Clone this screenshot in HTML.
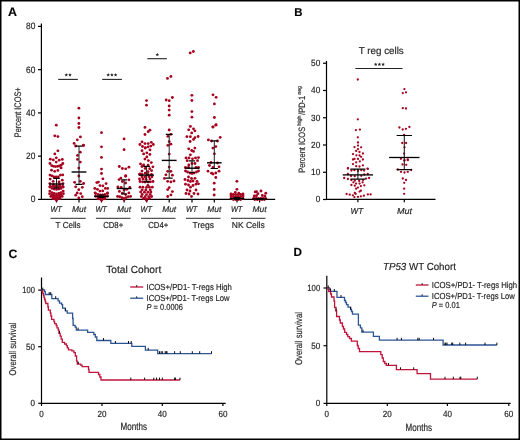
<!DOCTYPE html><html><head><meta charset="utf-8"><style>html,body{margin:0;padding:0;background:#fff;}svg{display:block;will-change:transform;}text{font-family:"Liberation Sans",sans-serif;text-rendering:geometricPrecision;stroke:#2a2a2a;stroke-width:0.18px;}</style></head><body>
<svg width="520" height="440" viewBox="0 0 520 440">
<rect x="0" y="0" width="520" height="440" fill="#fff"/>
<rect x="0.75" y="0.75" width="518.5" height="438.5" fill="none" stroke="#000" stroke-width="1.5"/>
<text x="8.0" y="15.8" font-size="12.4" font-weight="bold" fill="#000">A</text>
<text x="294.3" y="15.8" font-size="11.4" font-weight="bold" fill="#000">B</text>
<text x="8.6" y="257.6" font-size="12.2" font-weight="bold" fill="#000">C</text>
<text x="293.5" y="256.3" font-size="11.7" font-weight="bold" fill="#000">D</text>
<g stroke="#000" stroke-width="1.2" fill="none">
<path d="M41.4 23.5 V199.4 H275.2"/>
<path d="M38 199.40 H41.4"/>
<path d="M38 156.15 H41.4"/>
<path d="M38 112.90 H41.4"/>
<path d="M38 69.65 H41.4"/>
<path d="M38 26.40 H41.4"/>
<path d="M56.5 199.4 V202.5"/>
<path d="M79 199.4 V202.5"/>
<path d="M101.5 199.4 V202.5"/>
<path d="M124.1 199.4 V202.5"/>
<path d="M146.7 199.4 V202.5"/>
<path d="M169.2 199.4 V202.5"/>
<path d="M192 199.4 V202.5"/>
<path d="M214.3 199.4 V202.5"/>
<path d="M237 199.4 V202.5"/>
<path d="M259.6 199.4 V202.5"/>
</g>
<text x="35.4" y="202.3" font-size="9.3" text-anchor="end" textLength="4.7" lengthAdjust="spacingAndGlyphs" fill="#1e1e1e">0</text>
<text x="35.4" y="159.05" font-size="9.3" text-anchor="end" textLength="9.3" lengthAdjust="spacingAndGlyphs" fill="#1e1e1e">20</text>
<text x="35.4" y="115.8" font-size="9.3" text-anchor="end" textLength="9.3" lengthAdjust="spacingAndGlyphs" fill="#1e1e1e">40</text>
<text x="35.4" y="72.55" font-size="9.3" text-anchor="end" textLength="9.3" lengthAdjust="spacingAndGlyphs" fill="#1e1e1e">60</text>
<text x="35.4" y="29.3" font-size="9.3" text-anchor="end" textLength="9.3" lengthAdjust="spacingAndGlyphs" fill="#1e1e1e">80</text>
<text transform="translate(20.5,112.3) rotate(-90)" x="0" y="0" font-size="9.5" text-anchor="middle" textLength="50" lengthAdjust="spacingAndGlyphs" fill="#1e1e1e">Percent ICOS+</text>
<text x="56.1" y="212.2" font-size="8.2" text-anchor="middle" font-style="italic" textLength="11.4" lengthAdjust="spacingAndGlyphs" fill="#1e1e1e">WT</text>
<text x="79" y="212.2" font-size="8.2" text-anchor="middle" font-style="italic" textLength="14.0" lengthAdjust="spacingAndGlyphs" fill="#1e1e1e">Mut</text>
<text x="101.1" y="212.2" font-size="8.2" text-anchor="middle" font-style="italic" textLength="11.4" lengthAdjust="spacingAndGlyphs" fill="#1e1e1e">WT</text>
<text x="124.1" y="212.2" font-size="8.2" text-anchor="middle" font-style="italic" textLength="14.0" lengthAdjust="spacingAndGlyphs" fill="#1e1e1e">Mut</text>
<text x="146.29999999999998" y="212.2" font-size="8.2" text-anchor="middle" font-style="italic" textLength="11.4" lengthAdjust="spacingAndGlyphs" fill="#1e1e1e">WT</text>
<text x="169.2" y="212.2" font-size="8.2" text-anchor="middle" font-style="italic" textLength="14.0" lengthAdjust="spacingAndGlyphs" fill="#1e1e1e">Mut</text>
<text x="191.6" y="212.2" font-size="8.2" text-anchor="middle" font-style="italic" textLength="11.4" lengthAdjust="spacingAndGlyphs" fill="#1e1e1e">WT</text>
<text x="214.3" y="212.2" font-size="8.2" text-anchor="middle" font-style="italic" textLength="14.0" lengthAdjust="spacingAndGlyphs" fill="#1e1e1e">Mut</text>
<text x="236.6" y="212.2" font-size="8.2" text-anchor="middle" font-style="italic" textLength="11.4" lengthAdjust="spacingAndGlyphs" fill="#1e1e1e">WT</text>
<text x="259.6" y="212.2" font-size="8.2" text-anchor="middle" font-style="italic" textLength="14.0" lengthAdjust="spacingAndGlyphs" fill="#1e1e1e">Mut</text>
<path d="M50.5 218.4 H85.7" stroke="#555" stroke-width="1.4"/>
<text x="68.1" y="227.8" font-size="8.7" text-anchor="middle" textLength="25" lengthAdjust="spacingAndGlyphs" fill="#1e1e1e">T Cells</text>
<path d="M95.9 218.4 H130.5" stroke="#555" stroke-width="1.4"/>
<text x="113.2" y="227.8" font-size="8.7" text-anchor="middle" textLength="20" lengthAdjust="spacingAndGlyphs" fill="#1e1e1e">CD8+</text>
<path d="M141 218.4 H175.5" stroke="#555" stroke-width="1.4"/>
<text x="158.25" y="227.8" font-size="8.7" text-anchor="middle" textLength="20" lengthAdjust="spacingAndGlyphs" fill="#1e1e1e">CD4+</text>
<path d="M186 218.4 H220.5" stroke="#555" stroke-width="1.4"/>
<text x="203.25" y="227.8" font-size="8.7" text-anchor="middle" textLength="21.5" lengthAdjust="spacingAndGlyphs" fill="#1e1e1e">Tregs</text>
<path d="M231 218.4 H265.5" stroke="#555" stroke-width="1.4"/>
<text x="248.25" y="227.8" font-size="8.7" text-anchor="middle" textLength="33" lengthAdjust="spacingAndGlyphs" fill="#1e1e1e">NK Cells</text>
<g stroke="#222" stroke-width="1.1">
<path d="M58.2 79.4 H77.8"/><path d="M102.2 79.4 H121.9"/><path d="M147.3 58.7 H166.9"/>
</g>
<polygon points="66.25,73.10 66.75,74.31 68.06,74.41 67.06,75.26 67.37,76.54 66.25,75.86 65.13,76.54 65.44,75.26 64.44,74.41 65.75,74.31" fill="#222"/><polygon points="69.95,73.10 70.45,74.31 71.76,74.41 70.76,75.26 71.07,76.54 69.95,75.86 68.83,76.54 69.14,75.26 68.14,74.41 69.45,74.31" fill="#222"/>
<polygon points="108.20,73.10 108.70,74.31 110.01,74.41 109.01,75.26 109.32,76.54 108.20,75.86 107.08,76.54 107.39,75.26 106.39,74.41 107.70,74.31" fill="#222"/><polygon points="111.90,73.10 112.40,74.31 113.71,74.41 112.71,75.26 113.02,76.54 111.90,75.86 110.78,76.54 111.09,75.26 110.09,74.41 111.40,74.31" fill="#222"/><polygon points="115.60,73.10 116.10,74.31 117.41,74.41 116.41,75.26 116.72,76.54 115.60,75.86 114.48,76.54 114.79,75.26 113.79,74.41 115.10,74.31" fill="#222"/>
<polygon points="157.30,52.70 157.80,53.91 159.11,54.01 158.11,54.86 158.42,56.14 157.30,55.45 156.18,56.14 156.49,54.86 155.49,54.01 156.80,53.91" fill="#222"/>
<g fill="#a6001e">
<circle cx="56.3" cy="125.2" r="1.42"/><circle cx="54.8" cy="135.8" r="1.42"/><circle cx="57.9" cy="136.6" r="1.42"/><circle cx="57.9" cy="150.8" r="1.42"/><circle cx="54.8" cy="153.9" r="1.42"/><circle cx="56.3" cy="157.8" r="1.42"/><circle cx="50.3" cy="159.2" r="1.42"/><circle cx="53.3" cy="159.9" r="1.42"/><circle cx="59.2" cy="160.2" r="1.42"/><circle cx="62.3" cy="159.4" r="1.42"/><circle cx="56.2" cy="162.1" r="1.42"/><circle cx="50.0" cy="163.5" r="1.42"/><circle cx="62.8" cy="163.5" r="1.42"/><circle cx="51.7" cy="165.7" r="1.42"/><circle cx="53.6" cy="166.3" r="1.42"/><circle cx="55.5" cy="166.6" r="1.42"/><circle cx="57.5" cy="166.3" r="1.42"/><circle cx="59.4" cy="166.0" r="1.42"/><circle cx="61.1" cy="165.2" r="1.42"/><circle cx="61.1" cy="167.9" r="1.42"/><circle cx="51.5" cy="170.2" r="1.42"/><circle cx="54.7" cy="171.3" r="1.42"/><circle cx="57.9" cy="170.4" r="1.42"/><circle cx="50.0" cy="175.1" r="1.42"/><circle cx="52.1" cy="175.9" r="1.42"/><circle cx="54.0" cy="176.8" r="1.42"/><circle cx="56.2" cy="177.0" r="1.42"/><circle cx="58.3" cy="176.8" r="1.42"/><circle cx="60.4" cy="175.1" r="1.42"/><circle cx="62.7" cy="174.9" r="1.42"/><circle cx="50.2" cy="179.1" r="1.42"/><circle cx="62.3" cy="180.2" r="1.42"/><circle cx="53.2" cy="181.4" r="1.42"/><circle cx="59.1" cy="181.9" r="1.42"/><circle cx="49.8" cy="183.6" r="1.42"/><circle cx="63.0" cy="183.6" r="1.42"/><circle cx="53.5" cy="184.6" r="1.42"/><circle cx="59.5" cy="184.6" r="1.42"/><circle cx="50.2" cy="186.3" r="1.42"/><circle cx="52.8" cy="186.3" r="1.42"/><circle cx="55.2" cy="186.3" r="1.42"/><circle cx="57.8" cy="186.3" r="1.42"/><circle cx="60.2" cy="186.3" r="1.42"/><circle cx="62.8" cy="186.3" r="1.42"/><circle cx="49.8" cy="187.1" r="1.42"/><circle cx="52.0" cy="188.4" r="1.42"/><circle cx="54.2" cy="189.1" r="1.42"/><circle cx="56.5" cy="189.4" r="1.42"/><circle cx="58.8" cy="189.1" r="1.42"/><circle cx="61.0" cy="188.4" r="1.42"/><circle cx="63.2" cy="187.1" r="1.42"/><circle cx="49.8" cy="191.1" r="1.42"/><circle cx="52.0" cy="192.6" r="1.42"/><circle cx="54.2" cy="193.5" r="1.42"/><circle cx="56.5" cy="193.8" r="1.42"/><circle cx="58.8" cy="193.5" r="1.42"/><circle cx="61.0" cy="192.6" r="1.42"/><circle cx="63.2" cy="191.1" r="1.42"/><circle cx="49.6" cy="193.7" r="1.42"/><circle cx="51.9" cy="194.8" r="1.42"/><circle cx="54.2" cy="195.4" r="1.42"/><circle cx="56.5" cy="195.6" r="1.42"/><circle cx="58.8" cy="195.4" r="1.42"/><circle cx="61.1" cy="194.8" r="1.42"/><circle cx="63.4" cy="193.7" r="1.42"/><circle cx="50.8" cy="196.4" r="1.42"/><circle cx="53.0" cy="197.0" r="1.42"/><circle cx="55.4" cy="197.4" r="1.42"/><circle cx="57.6" cy="197.4" r="1.42"/><circle cx="60.0" cy="197.0" r="1.42"/><circle cx="62.2" cy="196.4" r="1.42"/><circle cx="53.0" cy="198.7" r="1.42"/><circle cx="55.4" cy="198.9" r="1.42"/><circle cx="57.6" cy="198.9" r="1.42"/><circle cx="60.0" cy="198.7" r="1.42"/><circle cx="56.5" cy="200.3" r="1.42"/><circle cx="78.9" cy="108.2" r="1.42"/><circle cx="78.9" cy="118.0" r="1.42"/><circle cx="78.9" cy="123.5" r="1.42"/><circle cx="78.9" cy="127.5" r="1.42"/><circle cx="80.4" cy="136.9" r="1.42"/><circle cx="77.3" cy="139.8" r="1.42"/><circle cx="74.1" cy="143.4" r="1.42"/><circle cx="83.5" cy="145.2" r="1.42"/><circle cx="75.7" cy="146.0" r="1.42"/><circle cx="83.4" cy="145.5" r="1.42"/><circle cx="80.3" cy="152.2" r="1.42"/><circle cx="77.5" cy="155.4" r="1.42"/><circle cx="77.5" cy="159.4" r="1.42"/><circle cx="80.3" cy="162.1" r="1.42"/><circle cx="78.8" cy="168.1" r="1.42"/><circle cx="78.8" cy="176.0" r="1.42"/><circle cx="74.6" cy="182.3" r="1.42"/><circle cx="80.3" cy="181.3" r="1.42"/><circle cx="83.6" cy="183.5" r="1.42"/><circle cx="75.7" cy="186.8" r="1.42"/><circle cx="82.3" cy="187.3" r="1.42"/><circle cx="78.8" cy="189.7" r="1.42"/><circle cx="77.2" cy="192.9" r="1.42"/><circle cx="75.7" cy="195.2" r="1.42"/><circle cx="80.7" cy="193.6" r="1.42"/><circle cx="82.3" cy="196.7" r="1.42"/><circle cx="78.8" cy="197.9" r="1.42"/><circle cx="101.5" cy="132.7" r="1.42"/><circle cx="101.5" cy="146.8" r="1.42"/><circle cx="101.5" cy="157.4" r="1.42"/><circle cx="101.5" cy="169.1" r="1.42"/><circle cx="101.5" cy="173.5" r="1.42"/><circle cx="102.9" cy="178.8" r="1.42"/><circle cx="96.8" cy="182.6" r="1.42"/><circle cx="98.4" cy="182.1" r="1.42"/><circle cx="106.1" cy="183.6" r="1.42"/><circle cx="100.0" cy="185.6" r="1.42"/><circle cx="102.9" cy="185.8" r="1.42"/><circle cx="94.8" cy="188.4" r="1.42"/><circle cx="97.4" cy="189.3" r="1.42"/><circle cx="105.4" cy="188.4" r="1.42"/><circle cx="107.7" cy="188.4" r="1.42"/><circle cx="99.9" cy="191.1" r="1.42"/><circle cx="102.7" cy="190.9" r="1.42"/><circle cx="95.1" cy="192.8" r="1.42"/><circle cx="107.5" cy="192.8" r="1.42"/><circle cx="95.5" cy="193.6" r="1.42"/><circle cx="97.9" cy="194.5" r="1.42"/><circle cx="100.3" cy="194.9" r="1.42"/><circle cx="102.7" cy="194.9" r="1.42"/><circle cx="105.1" cy="194.5" r="1.42"/><circle cx="107.5" cy="193.6" r="1.42"/><circle cx="95.5" cy="196.3" r="1.42"/><circle cx="97.9" cy="197.0" r="1.42"/><circle cx="100.3" cy="197.4" r="1.42"/><circle cx="102.7" cy="197.4" r="1.42"/><circle cx="105.1" cy="197.0" r="1.42"/><circle cx="107.5" cy="196.3" r="1.42"/><circle cx="98.0" cy="198.8" r="1.42"/><circle cx="100.3" cy="199.0" r="1.42"/><circle cx="102.7" cy="199.0" r="1.42"/><circle cx="105.0" cy="198.8" r="1.42"/><circle cx="101.5" cy="200.3" r="1.42"/><circle cx="124.1" cy="138.9" r="1.42"/><circle cx="124.1" cy="149.7" r="1.42"/><circle cx="119.3" cy="166.5" r="1.42"/><circle cx="122.4" cy="168.5" r="1.42"/><circle cx="125.7" cy="168.8" r="1.42"/><circle cx="128.9" cy="167.2" r="1.42"/><circle cx="125.7" cy="175.6" r="1.42"/><circle cx="125.6" cy="176.3" r="1.42"/><circle cx="120.9" cy="178.1" r="1.42"/><circle cx="119.1" cy="179.6" r="1.42"/><circle cx="128.9" cy="179.8" r="1.42"/><circle cx="122.4" cy="181.6" r="1.42"/><circle cx="125.6" cy="183.0" r="1.42"/><circle cx="117.9" cy="186.9" r="1.42"/><circle cx="121.2" cy="187.5" r="1.42"/><circle cx="129.8" cy="187.5" r="1.42"/><circle cx="124.1" cy="189.9" r="1.42"/><circle cx="126.8" cy="189.3" r="1.42"/><circle cx="119.4" cy="191.4" r="1.42"/><circle cx="128.9" cy="192.9" r="1.42"/><circle cx="122.4" cy="193.2" r="1.42"/><circle cx="125.6" cy="194.6" r="1.42"/><circle cx="117.6" cy="196.4" r="1.42"/><circle cx="119.7" cy="196.7" r="1.42"/><circle cx="121.8" cy="197.6" r="1.42"/><circle cx="123.8" cy="198.5" r="1.42"/><circle cx="126.2" cy="197.6" r="1.42"/><circle cx="128.3" cy="196.7" r="1.42"/><circle cx="130.6" cy="196.4" r="1.42"/><circle cx="124.1" cy="199.7" r="1.42"/><circle cx="146.5" cy="100.6" r="1.42"/><circle cx="146.5" cy="105.2" r="1.42"/><circle cx="145.0" cy="127.4" r="1.42"/><circle cx="148.2" cy="131.7" r="1.42"/><circle cx="149.9" cy="130.2" r="1.42"/><circle cx="145.0" cy="134.5" r="1.42"/><circle cx="142.0" cy="141.9" r="1.42"/><circle cx="139.9" cy="144.5" r="1.42"/><circle cx="145.0" cy="143.6" r="1.42"/><circle cx="148.2" cy="143.6" r="1.42"/><circle cx="151.3" cy="142.3" r="1.42"/><circle cx="153.3" cy="144.5" r="1.42"/><circle cx="142.5" cy="146.5" r="1.42"/><circle cx="145.4" cy="147.6" r="1.42"/><circle cx="148.2" cy="146.8" r="1.42"/><circle cx="150.8" cy="146.1" r="1.42"/><circle cx="145.2" cy="148.1" r="1.42"/><circle cx="142.0" cy="150.7" r="1.42"/><circle cx="150.0" cy="149.9" r="1.42"/><circle cx="143.6" cy="153.9" r="1.42"/><circle cx="146.8" cy="152.8" r="1.42"/><circle cx="149.9" cy="154.4" r="1.42"/><circle cx="146.8" cy="156.9" r="1.42"/><circle cx="144.9" cy="159.1" r="1.42"/><circle cx="148.4" cy="160.6" r="1.42"/><circle cx="151.3" cy="162.6" r="1.42"/><circle cx="140.5" cy="163.9" r="1.42"/><circle cx="142.0" cy="166.5" r="1.42"/><circle cx="143.6" cy="164.9" r="1.42"/><circle cx="148.1" cy="165.1" r="1.42"/><circle cx="152.9" cy="166.8" r="1.42"/><circle cx="145.2" cy="168.4" r="1.42"/><circle cx="149.7" cy="168.7" r="1.42"/><circle cx="142.0" cy="171.1" r="1.42"/><circle cx="148.1" cy="171.7" r="1.42"/><circle cx="151.6" cy="170.6" r="1.42"/><circle cx="140.1" cy="173.8" r="1.42"/><circle cx="145.2" cy="173.2" r="1.42"/><circle cx="139.5" cy="174.5" r="1.42"/><circle cx="142.0" cy="174.5" r="1.42"/><circle cx="148.0" cy="174.5" r="1.42"/><circle cx="151.5" cy="174.5" r="1.42"/><circle cx="142.0" cy="176.8" r="1.42"/><circle cx="145.0" cy="176.8" r="1.42"/><circle cx="149.0" cy="176.8" r="1.42"/><circle cx="152.0" cy="176.8" r="1.42"/><circle cx="139.5" cy="179.0" r="1.42"/><circle cx="143.0" cy="179.0" r="1.42"/><circle cx="146.0" cy="179.3" r="1.42"/><circle cx="150.0" cy="179.0" r="1.42"/><circle cx="140.0" cy="181.5" r="1.42"/><circle cx="142.5" cy="181.8" r="1.42"/><circle cx="145.0" cy="182.0" r="1.42"/><circle cx="148.0" cy="182.0" r="1.42"/><circle cx="150.5" cy="181.8" r="1.42"/><circle cx="153.0" cy="181.5" r="1.42"/><circle cx="147.9" cy="185.3" r="1.42"/><circle cx="140.0" cy="187.2" r="1.42"/><circle cx="142.9" cy="187.2" r="1.42"/><circle cx="146.5" cy="187.4" r="1.42"/><circle cx="149.4" cy="187.2" r="1.42"/><circle cx="152.3" cy="187.2" r="1.42"/><circle cx="142.2" cy="189.8" r="1.42"/><circle cx="145.8" cy="190.0" r="1.42"/><circle cx="150.2" cy="189.8" r="1.42"/><circle cx="140.7" cy="192.0" r="1.42"/><circle cx="144.4" cy="192.2" r="1.42"/><circle cx="148.0" cy="192.2" r="1.42"/><circle cx="150.9" cy="192.0" r="1.42"/><circle cx="142.2" cy="194.4" r="1.42"/><circle cx="146.5" cy="194.6" r="1.42"/><circle cx="150.2" cy="194.4" r="1.42"/><circle cx="141.4" cy="196.5" r="1.42"/><circle cx="145.1" cy="196.7" r="1.42"/><circle cx="148.7" cy="196.7" r="1.42"/><circle cx="151.6" cy="196.5" r="1.42"/><circle cx="143.5" cy="198.5" r="1.42"/><circle cx="146.5" cy="198.8" r="1.42"/><circle cx="149.5" cy="198.5" r="1.42"/><circle cx="146.5" cy="200.2" r="1.42"/><circle cx="167.5" cy="78.4" r="1.42"/><circle cx="170.9" cy="76.5" r="1.42"/><circle cx="166.2" cy="100.0" r="1.42"/><circle cx="169.2" cy="100.7" r="1.42"/><circle cx="172.4" cy="97.5" r="1.42"/><circle cx="169.2" cy="106.0" r="1.42"/><circle cx="169.2" cy="110.1" r="1.42"/><circle cx="169.2" cy="115.2" r="1.42"/><circle cx="169.2" cy="130.0" r="1.42"/><circle cx="167.9" cy="136.3" r="1.42"/><circle cx="170.9" cy="134.3" r="1.42"/><circle cx="169.2" cy="141.6" r="1.42"/><circle cx="167.9" cy="145.3" r="1.42"/><circle cx="170.9" cy="144.2" r="1.42"/><circle cx="169.2" cy="154.1" r="1.42"/><circle cx="169.2" cy="167.1" r="1.42"/><circle cx="167.7" cy="171.3" r="1.42"/><circle cx="170.9" cy="171.3" r="1.42"/><circle cx="165.9" cy="174.8" r="1.42"/><circle cx="172.4" cy="175.2" r="1.42"/><circle cx="164.5" cy="178.4" r="1.42"/><circle cx="167.7" cy="181.3" r="1.42"/><circle cx="170.9" cy="181.9" r="1.42"/><circle cx="174.0" cy="181.0" r="1.42"/><circle cx="169.2" cy="187.6" r="1.42"/><circle cx="167.7" cy="189.6" r="1.42"/><circle cx="172.4" cy="191.6" r="1.42"/><circle cx="170.9" cy="194.9" r="1.42"/><circle cx="167.7" cy="196.5" r="1.42"/><circle cx="190.2" cy="52.9" r="1.42"/><circle cx="193.4" cy="51.5" r="1.42"/><circle cx="191.9" cy="95.3" r="1.42"/><circle cx="191.9" cy="100.5" r="1.42"/><circle cx="191.9" cy="111.6" r="1.42"/><circle cx="191.9" cy="117.2" r="1.42"/><circle cx="190.4" cy="126.4" r="1.42"/><circle cx="188.7" cy="129.8" r="1.42"/><circle cx="193.5" cy="128.8" r="1.42"/><circle cx="194.9" cy="130.8" r="1.42"/><circle cx="191.7" cy="132.9" r="1.42"/><circle cx="186.9" cy="136.7" r="1.42"/><circle cx="190.4" cy="136.7" r="1.42"/><circle cx="194.9" cy="137.7" r="1.42"/><circle cx="193.5" cy="139.4" r="1.42"/><circle cx="198.1" cy="136.5" r="1.42"/><circle cx="190.1" cy="141.5" r="1.42"/><circle cx="188.7" cy="148.8" r="1.42"/><circle cx="194.9" cy="148.1" r="1.42"/><circle cx="191.7" cy="150.5" r="1.42"/><circle cx="193.5" cy="151.4" r="1.42"/><circle cx="190.4" cy="154.8" r="1.42"/><circle cx="186.0" cy="157.9" r="1.42"/><circle cx="189.0" cy="157.9" r="1.42"/><circle cx="192.5" cy="158.8" r="1.42"/><circle cx="195.5" cy="157.9" r="1.42"/><circle cx="198.5" cy="157.6" r="1.42"/><circle cx="187.2" cy="160.7" r="1.42"/><circle cx="197.5" cy="160.7" r="1.42"/><circle cx="188.8" cy="165.0" r="1.42"/><circle cx="192.0" cy="163.5" r="1.42"/><circle cx="195.0" cy="163.5" r="1.42"/><circle cx="185.5" cy="167.5" r="1.42"/><circle cx="188.5" cy="167.5" r="1.42"/><circle cx="196.0" cy="167.5" r="1.42"/><circle cx="198.5" cy="167.5" r="1.42"/><circle cx="185.5" cy="171.0" r="1.42"/><circle cx="187.5" cy="172.0" r="1.42"/><circle cx="190.0" cy="173.0" r="1.42"/><circle cx="192.0" cy="173.5" r="1.42"/><circle cx="194.0" cy="173.0" r="1.42"/><circle cx="196.5" cy="172.0" r="1.42"/><circle cx="198.5" cy="171.0" r="1.42"/><circle cx="188.5" cy="177.0" r="1.42"/><circle cx="191.5" cy="178.5" r="1.42"/><circle cx="195.0" cy="178.3" r="1.42"/><circle cx="185.0" cy="179.5" r="1.42"/><circle cx="188.0" cy="180.5" r="1.42"/><circle cx="190.5" cy="181.5" r="1.42"/><circle cx="193.0" cy="181.0" r="1.42"/><circle cx="197.0" cy="181.5" r="1.42"/><circle cx="185.5" cy="184.2" r="1.42"/><circle cx="188.5" cy="185.0" r="1.42"/><circle cx="193.0" cy="185.5" r="1.42"/><circle cx="196.0" cy="184.2" r="1.42"/><circle cx="198.5" cy="183.8" r="1.42"/><circle cx="190.5" cy="187.2" r="1.42"/><circle cx="187.0" cy="190.0" r="1.42"/><circle cx="190.0" cy="191.0" r="1.42"/><circle cx="196.0" cy="190.0" r="1.42"/><circle cx="186.0" cy="193.5" r="1.42"/><circle cx="189.0" cy="194.0" r="1.42"/><circle cx="194.0" cy="193.5" r="1.42"/><circle cx="198.0" cy="194.0" r="1.42"/><circle cx="191.5" cy="196.5" r="1.42"/><circle cx="213.0" cy="94.8" r="1.42"/><circle cx="216.1" cy="97.3" r="1.42"/><circle cx="214.4" cy="103.9" r="1.42"/><circle cx="214.4" cy="117.5" r="1.42"/><circle cx="216.1" cy="124.7" r="1.42"/><circle cx="213.0" cy="126.9" r="1.42"/><circle cx="212.9" cy="127.1" r="1.42"/><circle cx="215.8" cy="125.2" r="1.42"/><circle cx="208.4" cy="139.9" r="1.42"/><circle cx="220.2" cy="137.3" r="1.42"/><circle cx="211.5" cy="141.0" r="1.42"/><circle cx="217.5" cy="141.0" r="1.42"/><circle cx="212.9" cy="148.1" r="1.42"/><circle cx="215.8" cy="146.6" r="1.42"/><circle cx="214.4" cy="153.8" r="1.42"/><circle cx="211.0" cy="162.5" r="1.42"/><circle cx="217.5" cy="163.0" r="1.42"/><circle cx="209.5" cy="165.5" r="1.42"/><circle cx="213.0" cy="167.5" r="1.42"/><circle cx="219.0" cy="166.8" r="1.42"/><circle cx="208.0" cy="171.2" r="1.42"/><circle cx="211.5" cy="173.2" r="1.42"/><circle cx="213.0" cy="174.0" r="1.42"/><circle cx="215.8" cy="173.0" r="1.42"/><circle cx="219.0" cy="171.2" r="1.42"/><circle cx="215.8" cy="177.5" r="1.42"/><circle cx="214.2" cy="183.2" r="1.42"/><circle cx="214.2" cy="189.5" r="1.42"/><circle cx="214.2" cy="195.0" r="1.42"/><circle cx="236.9" cy="181.3" r="1.42"/><circle cx="236.9" cy="189.3" r="1.42"/><circle cx="235.3" cy="192.4" r="1.42"/><circle cx="238.8" cy="193.2" r="1.42"/><circle cx="231.0" cy="193.9" r="1.42"/><circle cx="233.4" cy="194.3" r="1.42"/><circle cx="235.8" cy="194.6" r="1.42"/><circle cx="238.2" cy="194.6" r="1.42"/><circle cx="240.6" cy="194.3" r="1.42"/><circle cx="243.0" cy="193.9" r="1.42"/><circle cx="231.0" cy="195.9" r="1.42"/><circle cx="233.4" cy="196.3" r="1.42"/><circle cx="235.8" cy="196.6" r="1.42"/><circle cx="238.2" cy="196.6" r="1.42"/><circle cx="240.6" cy="196.3" r="1.42"/><circle cx="243.0" cy="195.9" r="1.42"/><circle cx="231.0" cy="198.3" r="1.42"/><circle cx="233.4" cy="198.3" r="1.42"/><circle cx="235.8" cy="198.3" r="1.42"/><circle cx="238.2" cy="198.3" r="1.42"/><circle cx="240.6" cy="198.3" r="1.42"/><circle cx="243.0" cy="198.3" r="1.42"/><circle cx="233.4" cy="199.6" r="1.42"/><circle cx="235.8" cy="199.6" r="1.42"/><circle cx="238.2" cy="199.6" r="1.42"/><circle cx="240.6" cy="199.6" r="1.42"/><circle cx="255.2" cy="191.9" r="1.42"/><circle cx="256.5" cy="191.6" r="1.42"/><circle cx="261.0" cy="191.0" r="1.42"/><circle cx="257.9" cy="193.7" r="1.42"/><circle cx="265.8" cy="193.2" r="1.42"/><circle cx="262.3" cy="195.5" r="1.42"/><circle cx="264.9" cy="195.9" r="1.42"/><circle cx="254.3" cy="195.9" r="1.42"/><circle cx="256.5" cy="195.7" r="1.42"/><circle cx="253.6" cy="198.3" r="1.42"/><circle cx="256.0" cy="198.3" r="1.42"/><circle cx="258.4" cy="198.3" r="1.42"/><circle cx="260.8" cy="198.3" r="1.42"/><circle cx="263.2" cy="198.3" r="1.42"/><circle cx="265.6" cy="198.3" r="1.42"/><circle cx="254.8" cy="199.6" r="1.42"/><circle cx="257.2" cy="199.6" r="1.42"/><circle cx="259.6" cy="199.6" r="1.42"/><circle cx="262.0" cy="199.6" r="1.42"/><circle cx="264.4" cy="199.6" r="1.42"/>
</g>
<g stroke="#000" fill="none">
<path d="M56.5 178.3 V187.8" stroke="#222" stroke-width="1"/>
<path d="M53.20 178.3 H59.80 M53.20 187.8 H59.80" stroke-width="1.2"/>
<path d="M49.30 184.0 H63.70" stroke-width="1.4"/>
<path d="M79 146.2 V184.4" stroke="#222" stroke-width="1"/>
<path d="M75.50 146.2 H82.50 M75.50 184.4 H82.50" stroke-width="1.2"/>
<path d="M71.60 172.0 H86.40" stroke-width="1.4"/>
<path d="M101.5 195.0 V197.5" stroke="#222" stroke-width="1"/>
<path d="M98.50 195.0 H104.50 M98.50 197.5 H104.50" stroke-width="1.2"/>
<path d="M94.20 196.3 H108.80" stroke-width="1.4"/>
<path d="M124.1 179.8 V194.0" stroke="#222" stroke-width="1"/>
<path d="M121.10 179.8 H127.10 M121.10 194.0 H127.10" stroke-width="1.2"/>
<path d="M116.70 188.5 H131.50" stroke-width="1.4"/>
<path d="M146.6 166.4 V181.8" stroke="#222" stroke-width="1"/>
<path d="M143.30 166.4 H149.90 M143.30 181.8 H149.90" stroke-width="1.2"/>
<path d="M139.20 175.1 H154.00" stroke-width="1.4"/>
<path d="M169.2 134.3 V178.1" stroke="#222" stroke-width="1"/>
<path d="M165.80 134.3 H172.60 M165.80 178.1 H172.60" stroke-width="1.2"/>
<path d="M161.80 160.4 H176.60" stroke-width="1.4"/>
<path d="M192 160.9 V172.5" stroke="#222" stroke-width="1"/>
<path d="M188.90 160.9 H195.10 M188.90 172.5 H195.10" stroke-width="1.2"/>
<path d="M184.70 168.2 H199.30" stroke-width="1.4"/>
<path d="M214.3 140.9 V168.5" stroke="#222" stroke-width="1"/>
<path d="M210.60 140.9 H218.00 M210.60 168.5 H218.00" stroke-width="1.2"/>
<path d="M207.00 162.8 H221.60" stroke-width="1.4"/>
<path d="M237 197.5 V199.4" stroke="#222" stroke-width="1"/>
<path d="M234.00 197.5 H240.00 M234.00 199.4 H240.00" stroke-width="1.2"/>
<path d="M230.00 198.5 H244.00" stroke-width="1.4"/>
<path d="M259.6 198.5 V199.4" stroke="#222" stroke-width="1"/>
<path d="M256.60 198.5 H262.60 M256.60 199.4 H262.60" stroke-width="1.2"/>
<path d="M252.60 199 H266.60" stroke-width="1.4"/>
</g>
<g stroke="#000" stroke-width="1.2" fill="none">
<path d="M326.5 61 V199.4 H435.5"/>
<path d="M323 199.50 H326.5"/>
<path d="M323 172.25 H326.5"/>
<path d="M323 145.00 H326.5"/>
<path d="M323 117.75 H326.5"/>
<path d="M323 90.50 H326.5"/>
<path d="M323 63.25 H326.5"/>
<path d="M357.9 199.4 V202.3"/>
<path d="M404.3 199.4 V202.3"/>
</g>
<text x="320.3" y="202.4" font-size="9.0" text-anchor="end" textLength="4.6" lengthAdjust="spacingAndGlyphs" fill="#1e1e1e">0</text>
<text x="320.3" y="175.15" font-size="9.0" text-anchor="end" textLength="9.2" lengthAdjust="spacingAndGlyphs" fill="#1e1e1e">10</text>
<text x="320.3" y="147.9" font-size="9.0" text-anchor="end" textLength="9.2" lengthAdjust="spacingAndGlyphs" fill="#1e1e1e">20</text>
<text x="320.3" y="120.65" font-size="9.0" text-anchor="end" textLength="9.2" lengthAdjust="spacingAndGlyphs" fill="#1e1e1e">30</text>
<text x="320.3" y="93.4" font-size="9.0" text-anchor="end" textLength="9.2" lengthAdjust="spacingAndGlyphs" fill="#1e1e1e">40</text>
<text x="320.3" y="66.15" font-size="9.0" text-anchor="end" textLength="9.2" lengthAdjust="spacingAndGlyphs" fill="#1e1e1e">50</text>
<text x="381.25" y="54.0" font-size="9.9" text-anchor="middle" textLength="45.1" lengthAdjust="spacingAndGlyphs" fill="#1e1e1e">T reg cells</text>
<path d="M355.4 68.5 H402.5" stroke="#222" stroke-width="1.1"/>
<polygon points="375.70,62.50 376.20,63.71 377.51,63.81 376.51,64.66 376.82,65.94 375.70,65.26 374.58,65.94 374.89,64.66 373.89,63.81 375.20,63.71" fill="#222"/><polygon points="379.40,62.50 379.90,63.71 381.21,63.81 380.21,64.66 380.52,65.94 379.40,65.26 378.28,65.94 378.59,64.66 377.59,63.81 378.90,63.71" fill="#222"/><polygon points="383.10,62.50 383.60,63.71 384.91,63.81 383.91,64.66 384.22,65.94 383.10,65.26 381.98,65.94 382.29,64.66 381.29,63.81 382.60,63.71" fill="#222"/>
<text x="356.8" y="213.6" font-size="8.6" text-anchor="middle" font-style="italic" textLength="12.6" lengthAdjust="spacingAndGlyphs" fill="#1e1e1e">WT</text>
<text x="404.4" y="213.6" font-size="8.6" text-anchor="middle" font-style="italic" textLength="15.0" lengthAdjust="spacingAndGlyphs" fill="#1e1e1e">Mut</text>
<g transform="translate(305.2,172.8) rotate(-90)" fill="#1e1e1e"><text x="0" y="0" font-size="9.2" textLength="45.9" lengthAdjust="spacingAndGlyphs">Percent ICOS</text><text x="47.3" y="-4" font-size="5.4" textLength="10" lengthAdjust="spacingAndGlyphs">high</text><text x="57.9" y="0" font-size="9.2" textLength="19.2" lengthAdjust="spacingAndGlyphs">/PD-1</text><text x="78.2" y="-4" font-size="5.4" textLength="8.6" lengthAdjust="spacingAndGlyphs">neg</text></g>
<g fill="#a6001e">
<circle cx="357.8" cy="79.5" r="1.15"/><circle cx="357.8" cy="119.3" r="1.15"/><circle cx="355.9" cy="130.1" r="1.15"/><circle cx="359.9" cy="129.6" r="1.15"/><circle cx="357.8" cy="137.3" r="1.15"/><circle cx="358.0" cy="142.5" r="1.15"/><circle cx="354.5" cy="147.1" r="1.15"/><circle cx="358.0" cy="145.6" r="1.15"/><circle cx="361.1" cy="147.3" r="1.15"/><circle cx="358.0" cy="149.1" r="1.15"/><circle cx="356.2" cy="150.9" r="1.15"/><circle cx="359.5" cy="152.0" r="1.15"/><circle cx="353.0" cy="154.1" r="1.15"/><circle cx="362.9" cy="153.5" r="1.15"/><circle cx="356.4" cy="155.3" r="1.15"/><circle cx="359.5" cy="155.5" r="1.15"/><circle cx="361.1" cy="156.8" r="1.15"/><circle cx="353.0" cy="159.5" r="1.15"/><circle cx="354.5" cy="158.9" r="1.15"/><circle cx="358.0" cy="158.9" r="1.15"/><circle cx="362.9" cy="159.5" r="1.15"/><circle cx="356.2" cy="162.3" r="1.15"/><circle cx="359.8" cy="161.4" r="1.15"/><circle cx="353.0" cy="164.1" r="1.15"/><circle cx="356.2" cy="166.2" r="1.15"/><circle cx="359.5" cy="166.5" r="1.15"/><circle cx="362.9" cy="165.3" r="1.15"/><circle cx="348.0" cy="168.2" r="1.15"/><circle cx="367.5" cy="168.6" r="1.15"/><circle cx="347.9" cy="168.5" r="1.15"/><circle cx="367.8" cy="168.9" r="1.15"/><circle cx="351.4" cy="170.6" r="1.15"/><circle cx="354.4" cy="170.2" r="1.15"/><circle cx="358.0" cy="171.0" r="1.15"/><circle cx="361.3" cy="170.2" r="1.15"/><circle cx="364.1" cy="170.6" r="1.15"/><circle cx="347.9" cy="174.0" r="1.15"/><circle cx="367.8" cy="174.0" r="1.15"/><circle cx="351.1" cy="176.0" r="1.15"/><circle cx="354.8" cy="176.2" r="1.15"/><circle cx="361.3" cy="175.8" r="1.15"/><circle cx="364.3" cy="174.5" r="1.15"/><circle cx="344.2" cy="178.0" r="1.15"/><circle cx="347.9" cy="179.0" r="1.15"/><circle cx="366.1" cy="178.6" r="1.15"/><circle cx="369.1" cy="178.0" r="1.15"/><circle cx="351.4" cy="180.1" r="1.15"/><circle cx="354.8" cy="180.7" r="1.15"/><circle cx="359.2" cy="181.0" r="1.15"/><circle cx="363.0" cy="180.1" r="1.15"/><circle cx="353.4" cy="182.3" r="1.15"/><circle cx="356.1" cy="183.6" r="1.15"/><circle cx="359.6" cy="183.6" r="1.15"/><circle cx="362.6" cy="182.3" r="1.15"/><circle cx="351.4" cy="185.0" r="1.15"/><circle cx="354.8" cy="185.7" r="1.15"/><circle cx="360.9" cy="186.1" r="1.15"/><circle cx="364.3" cy="185.3" r="1.15"/><circle cx="356.1" cy="188.7" r="1.15"/><circle cx="357.9" cy="187.6" r="1.15"/><circle cx="359.6" cy="191.6" r="1.15"/><circle cx="360.9" cy="190.7" r="1.15"/><circle cx="346.6" cy="194.0" r="1.15"/><circle cx="349.7" cy="194.7" r="1.15"/><circle cx="352.9" cy="195.3" r="1.15"/><circle cx="354.8" cy="193.0" r="1.15"/><circle cx="355.7" cy="193.8" r="1.15"/><circle cx="358.0" cy="196.8" r="1.15"/><circle cx="360.9" cy="196.3" r="1.15"/><circle cx="363.9" cy="195.7" r="1.15"/><circle cx="367.8" cy="194.4" r="1.15"/><circle cx="370.6" cy="194.4" r="1.15"/><circle cx="354.4" cy="197.1" r="1.15"/><circle cx="399.4" cy="127.5" r="1.15"/><circle cx="402.7" cy="129.5" r="1.15"/><circle cx="405.9" cy="128.8" r="1.15"/><circle cx="409.4" cy="127.0" r="1.15"/><circle cx="404.4" cy="89.1" r="1.15"/><circle cx="402.8" cy="93.1" r="1.15"/><circle cx="406.0" cy="92.3" r="1.15"/><circle cx="402.8" cy="108.2" r="1.15"/><circle cx="406.0" cy="108.5" r="1.15"/><circle cx="404.1" cy="135.0" r="1.15"/><circle cx="402.3" cy="143.0" r="1.15"/><circle cx="406.1" cy="143.0" r="1.15"/><circle cx="404.5" cy="147.3" r="1.15"/><circle cx="404.1" cy="153.6" r="1.15"/><circle cx="400.9" cy="158.8" r="1.15"/><circle cx="407.7" cy="159.5" r="1.15"/><circle cx="404.3" cy="160.6" r="1.15"/><circle cx="404.5" cy="160.2" r="1.15"/><circle cx="407.8" cy="160.2" r="1.15"/><circle cx="402.5" cy="164.5" r="1.15"/><circle cx="406.2" cy="164.8" r="1.15"/><circle cx="397.8" cy="169.5" r="1.15"/><circle cx="411.2" cy="170.0" r="1.15"/><circle cx="401.0" cy="171.8" r="1.15"/><circle cx="404.5" cy="172.5" r="1.15"/><circle cx="407.8" cy="171.8" r="1.15"/><circle cx="402.8" cy="178.5" r="1.15"/><circle cx="406.0" cy="180.0" r="1.15"/><circle cx="404.2" cy="182.8" r="1.15"/><circle cx="404.2" cy="188.7" r="1.15"/><circle cx="404.2" cy="193.8" r="1.15"/>
</g>
<g stroke="#000" fill="none">
<path d="M357.9 169.1 V179.2" stroke="#222" stroke-width="1.1"/>
<path d="M350.35 169.1 H365.45 M350.35 179.2 H365.45" stroke-width="1.2"/>
<path d="M342.75 174.9 H373.05" stroke-width="1.3"/>
<path d="M404.3 135.5 V169.7" stroke="#222" stroke-width="1.1"/>
<path d="M396.65 135.5 H411.95 M396.65 169.7 H411.95" stroke-width="1.2"/>
<path d="M389.10 157.5 H419.50" stroke-width="1.3"/>
</g>
<g stroke="#000" stroke-width="1.2" fill="none">
<path d="M41.5 277.5 V403.3 H225.7"/>
<path d="M38.2 290.1 H41.5"/>
<path d="M38.2 346.7 H41.5"/>
<path d="M38.2 403.3 H41.5"/>
<path d="M41.5 403.3 V406"/>
<path d="M102 403.3 V406"/>
<path d="M162.3 403.3 V406"/>
<path d="M222.9 403.3 V406"/>
</g>
<text x="34.9" y="293.0" font-size="9.0" text-anchor="end" textLength="12.6" lengthAdjust="spacingAndGlyphs" fill="#1e1e1e">100</text>
<text x="34.9" y="349.5" font-size="9.0" text-anchor="end" textLength="9.0" lengthAdjust="spacingAndGlyphs" fill="#1e1e1e">50</text>
<text x="34.9" y="406.2" font-size="9.0" text-anchor="end" textLength="4.5" lengthAdjust="spacingAndGlyphs" fill="#1e1e1e">0</text>
<text x="41.5" y="416.9" font-size="9.0" text-anchor="middle" textLength="4.5" lengthAdjust="spacingAndGlyphs" fill="#1e1e1e">0</text>
<text x="102" y="416.9" font-size="9.0" text-anchor="middle" textLength="9.0" lengthAdjust="spacingAndGlyphs" fill="#1e1e1e">20</text>
<text x="162.3" y="416.9" font-size="9.0" text-anchor="middle" textLength="9.0" lengthAdjust="spacingAndGlyphs" fill="#1e1e1e">40</text>
<text x="222.9" y="416.9" font-size="9.0" text-anchor="middle" textLength="9.0" lengthAdjust="spacingAndGlyphs" fill="#1e1e1e">60</text>
<text x="133.8" y="430.4" font-size="10.4" text-anchor="middle" textLength="26.4" lengthAdjust="spacingAndGlyphs" fill="#1e1e1e">Months</text>
<text transform="translate(15.9,349) rotate(-90)" x="0" y="0" font-size="9.8" text-anchor="middle" textLength="53" lengthAdjust="spacingAndGlyphs" fill="#1e1e1e">Overall survival</text>
<text x="133.75" y="272.6" font-size="10.3" text-anchor="middle" textLength="55" lengthAdjust="spacingAndGlyphs" fill="#1e1e1e">Total Cohort</text>
<g stroke="#000" stroke-width="1.2" fill="none">
<path d="M326.8 275.8 V403.4 H510.7"/>
<path d="M323.5 288.0 H326.8"/>
<path d="M323.5 345.7 H326.8"/>
<path d="M323.5 403.4 H326.8"/>
<path d="M326.8 403.4 V406"/>
<path d="M387.3 403.4 V406"/>
<path d="M447.4 403.4 V406"/>
<path d="M508.8 403.4 V406"/>
</g>
<text x="320.2" y="290.9" font-size="9.0" text-anchor="end" textLength="12.9" lengthAdjust="spacingAndGlyphs" fill="#1e1e1e">100</text>
<text x="320.2" y="348.6" font-size="9.0" text-anchor="end" textLength="9.0" lengthAdjust="spacingAndGlyphs" fill="#1e1e1e">50</text>
<text x="320.2" y="406.3" font-size="9.0" text-anchor="end" textLength="4.5" lengthAdjust="spacingAndGlyphs" fill="#1e1e1e">0</text>
<text x="326.8" y="417.0" font-size="9.0" text-anchor="middle" textLength="4.5" lengthAdjust="spacingAndGlyphs" fill="#1e1e1e">0</text>
<text x="387.3" y="417.0" font-size="9.0" text-anchor="middle" textLength="9.0" lengthAdjust="spacingAndGlyphs" fill="#1e1e1e">20</text>
<text x="447.4" y="417.0" font-size="9.0" text-anchor="middle" textLength="9.0" lengthAdjust="spacingAndGlyphs" fill="#1e1e1e">40</text>
<text x="508.8" y="417.0" font-size="9.0" text-anchor="middle" textLength="9.0" lengthAdjust="spacingAndGlyphs" fill="#1e1e1e">60</text>
<text x="418.8" y="431.0" font-size="10.4" text-anchor="middle" textLength="26.4" lengthAdjust="spacingAndGlyphs" fill="#1e1e1e">Months</text>
<text transform="translate(301.5,338.5) rotate(-90)" x="0" y="0" font-size="9.8" text-anchor="middle" textLength="53" lengthAdjust="spacingAndGlyphs" fill="#1e1e1e">Overall survival</text>
<text x="383" y="270" font-size="10.2" fill="#1e1e1e" textLength="72.9" lengthAdjust="spacingAndGlyphs"><tspan font-style="italic">TP53</tspan> WT Cohort</text>
<path d="M130.2 287.0 H143.2" stroke="#c0143c" stroke-width="1.3"/>
<path d="M136.7 285.0 V287.0" stroke="#000" stroke-width="0.8"/>
<path d="M130.2 298.2 H143.2" stroke="#2c5596" stroke-width="1.3"/>
<path d="M136.7 296.2 V298.2" stroke="#000" stroke-width="0.8"/>
<text x="146.5" y="289.9" font-size="8.7" textLength="85.4" lengthAdjust="spacingAndGlyphs" fill="#1e1e1e">ICOS+/PD1- T-regs High</text>
<text x="146.5" y="300.8" font-size="8.7" textLength="83.0" lengthAdjust="spacingAndGlyphs" fill="#1e1e1e">ICOS+/PD1- T-regs Low</text>
<text x="146.5" y="309.7" font-size="8.7" fill="#1e1e1e" textLength="36.4" lengthAdjust="spacingAndGlyphs"><tspan font-style="italic">P</tspan> = 0.0006</text>
<path d="M415.8 285.0 H428.5" stroke="#c0143c" stroke-width="1.3"/>
<path d="M422.1 283.0 V285.0" stroke="#000" stroke-width="0.8"/>
<path d="M415.8 296.2 H428.5" stroke="#2c5596" stroke-width="1.3"/>
<path d="M422.1 294.2 V296.2" stroke="#000" stroke-width="0.8"/>
<text x="431.8" y="287.9" font-size="8.7" textLength="85.4" lengthAdjust="spacingAndGlyphs" fill="#1e1e1e">ICOS+/PD1- T-regs High</text>
<text x="431.8" y="298.8" font-size="8.7" textLength="83.0" lengthAdjust="spacingAndGlyphs" fill="#1e1e1e">ICOS+/PD1- T-regs Low</text>
<text x="431.8" y="307.7" font-size="8.7" fill="#1e1e1e" textLength="28.0" lengthAdjust="spacingAndGlyphs"><tspan font-style="italic">P</tspan> = 0.01</text>
<path d="M41.50 290.00 L44.60 290.00 L44.60 291.60 L45.30 291.60 L45.30 294.50 L51.80 294.50 L51.80 298.60 L58.10 298.60 L58.10 300.80 L59.50 300.80 L59.50 303.10 L61.70 303.10 L61.70 304.60 L62.60 304.60 L62.60 308.10 L65.40 308.10 L65.40 310.80 L67.20 310.80 L67.20 313.10 L72.60 313.10 L72.60 318.50 L73.10 318.50 L73.10 325.40 L75.10 325.40 L75.10 327.20 L76.30 327.20 L76.30 330.10 L87.60 330.10 L87.60 332.30 L93.80 332.30 L93.80 334.50 L95.30 334.50 L95.30 337.00 L96.80 337.00 L96.80 340.50 L110.80 340.50 L110.80 343.40 L131.80 343.40 L131.80 346.30 L145.40 346.30 L145.40 350.20 L157.70 350.20 L157.70 353.60 L211.50 353.60" fill="none" stroke="#2c5596" stroke-width="1.3" stroke-linejoin="miter"/>
<path d="M41.50 290.00 L42.30 290.00 L42.30 291.50 L42.80 291.50 L42.80 293.50 L43.40 293.50 L43.40 295.50 L44.00 295.50 L44.00 297.50 L44.60 297.50 L44.60 299.50 L45.20 299.50 L45.20 301.50 L45.80 301.50 L45.80 303.50 L47.90 303.50 L47.90 307.00 L48.40 307.00 L48.40 310.20 L50.30 310.20 L50.30 313.00 L50.90 313.00 L50.90 316.00 L51.60 316.00 L51.60 319.30 L53.90 319.30 L53.90 321.50 L54.60 321.50 L54.60 323.60 L56.20 323.60 L56.20 325.50 L57.00 325.50 L57.00 327.80 L58.20 327.80 L58.20 330.00 L58.90 330.00 L58.90 333.40 L60.20 333.40 L60.20 336.20 L61.20 336.20 L61.20 339.20 L62.30 339.20 L62.30 342.30 L64.60 342.30 L64.60 344.00 L66.40 344.00 L66.40 345.70 L67.30 345.70 L67.30 347.80 L68.50 347.80 L68.50 349.80 L71.90 349.80 L71.90 350.90 L73.90 350.90 L73.90 352.60 L75.30 352.60 L75.30 356.00 L76.60 356.00 L76.60 361.20 L77.30 361.20 L77.30 364.10 L80.70 364.10 L80.70 365.20 L82.10 365.20 L82.10 366.60 L88.50 366.60 L88.50 369.50 L89.00 369.50 L89.00 372.30 L98.50 372.30 L98.50 374.50 L99.80 374.50 L99.80 377.00 L101.00 377.00 L101.00 380.00 L180.00 380.00" fill="none" stroke="#c0143c" stroke-width="1.3" stroke-linejoin="miter"/>
<path d="M326.80 287.80 L329.60 287.80 L329.60 289.00 L330.40 289.00 L330.40 291.40 L337.00 291.40 L337.00 297.40 L344.50 297.40 L344.50 300.50 L345.50 300.50 L345.50 302.50 L346.50 302.50 L346.50 304.60 L348.00 304.60 L348.00 307.20 L350.60 307.20 L350.60 309.50 L351.50 309.50 L351.50 311.50 L352.50 311.50 L352.50 314.20 L358.40 314.20 L358.40 325.20 L360.40 325.20 L360.40 327.80 L361.80 327.80 L361.80 332.10 L373.40 332.10 L373.40 336.30 L379.40 336.30 L379.40 340.20 L443.10 340.20 L443.10 345.00 L496.90 345.00" fill="none" stroke="#2c5596" stroke-width="1.3" stroke-linejoin="miter"/>
<path d="M326.80 287.80 L328.20 287.80 L328.20 289.30 L328.70 289.30 L328.70 291.50 L330.60 291.50 L330.60 294.00 L331.50 294.00 L331.50 297.00 L334.00 297.00 L334.00 301.00 L334.60 301.00 L334.60 307.50 L336.00 307.50 L336.00 311.00 L336.60 311.00 L336.60 316.50 L339.50 316.50 L339.50 320.00 L340.30 320.00 L340.30 323.00 L342.40 323.00 L342.40 326.50 L343.50 326.50 L343.50 329.00 L344.70 329.00 L344.70 332.40 L346.50 332.40 L346.50 334.50 L347.80 334.50 L347.80 336.60 L349.50 336.60 L349.50 338.50 L351.40 338.50 L351.40 341.10 L357.30 341.10 L357.30 345.50 L358.20 345.50 L358.20 348.50 L359.50 348.50 L359.50 351.70 L380.80 351.70 L380.80 354.60 L382.20 354.60 L382.20 358.00 L383.30 358.00 L383.30 361.50 L384.80 361.50 L384.80 363.50 L386.30 363.50 L386.30 365.30 L396.40 365.30 L396.40 369.70 L417.10 369.70 L417.10 373.70 L430.50 373.70 L430.50 379.10 L477.30 379.10" fill="none" stroke="#c0143c" stroke-width="1.3" stroke-linejoin="miter"/>
<path d="M42.8 287.6 V290.0M49.2 292.1 V294.5M50.7 292.1 V294.5M55.7 296.2 V298.6M65.4 308.4 V310.8M78.1 327.7 V330.1M103.5 338.1 V340.5M115.4 341.0 V343.4M128.5 341.0 V343.4M131.2 341.0 V343.4M148.2 347.8 V350.2M159.5 351.2 V353.6M161.1 351.2 V353.6M162.3 351.2 V353.6M165.2 351.2 V353.6M166.2 351.2 V353.6M167.0 351.2 V353.6M174.6 351.2 V353.6M180.3 351.2 V353.6M192.3 351.2 V353.6M199.7 351.2 V353.6M211.5 351.2 V353.6" stroke="#000" stroke-width="0.95" fill="none"/>
<path d="M59.5 331.0 V333.4M78.3 361.7 V364.1M130.8 377.6 V380.0M144.6 377.6 V380.0M153.8 377.6 V380.0M156.5 377.6 V380.0M159.5 377.6 V380.0M162.3 377.6 V380.0M174.6 377.6 V380.0M175.4 377.6 V380.0M180.0 377.6 V380.0" stroke="#000" stroke-width="0.95" fill="none"/>
<path d="M328.2 285.4 V287.8M330.4 289.0 V291.4M334.3 289.0 V291.4M341.0 295.0 V297.4M350.6 307.1 V309.5M363.0 329.7 V332.1M397.1 337.8 V340.2M401.4 337.8 V340.2M417.8 337.8 V340.2M419.2 337.8 V340.2M433.5 337.8 V340.2M445.0 342.6 V345.0M445.8 342.6 V345.0M447.0 342.6 V345.0M451.7 342.6 V345.0M452.7 342.6 V345.0M459.8 342.6 V345.0M465.6 342.6 V345.0M485.0 342.6 V345.0M496.9 342.6 V345.0" stroke="#000" stroke-width="0.95" fill="none"/>
<path d="M336.0 308.6 V311.0M388.4 362.9 V365.3M400.5 367.3 V369.7M413.7 367.3 V369.7M445.0 376.7 V379.1M453.3 376.7 V379.1M460.0 376.7 V379.1M460.8 376.7 V379.1M477.3 376.7 V379.1" stroke="#000" stroke-width="0.95" fill="none"/>
</svg></body></html>
